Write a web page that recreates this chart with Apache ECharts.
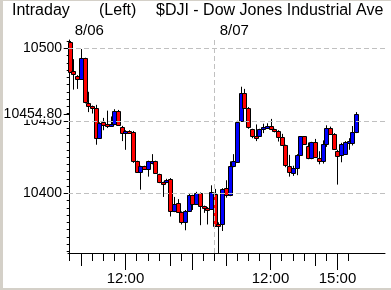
<!DOCTYPE html>
<html><head><meta charset="utf-8">
<script src="https://cdn.jsdelivr.net/npm/echarts@6/dist/echarts.min.js"></script>
<style>
html,body{margin:0;padding:0;background:#d4d0c8;}
#bg{position:absolute;left:3px;top:1px;width:388px;height:287px;background:#fff;}
#c{position:absolute;left:0;top:0;width:391px;height:290px;}
</style>
</head><body><div id="bg"></div><div id="c"></div>
<script>
// ---- data ----
const dayLabels = ['8/06', '8/07'];
const times1 = ['09:30','09:40','09:50','10:00','10:10','10:20','10:30','10:40','10:50','11:00',
  '11:10','11:20','11:30','11:40','11:50','12:00','12:10','12:20','12:30','12:40',
  '12:50','13:00','13:10','13:20','13:30','13:40','13:50','14:00','14:10','14:20',
  '14:30','14:40','14:50','15:00','15:10','15:20','15:30','15:40','15:50','16:00'];
const times2 = ['09:40','09:50','10:00','10:10','10:20','10:30','10:40','10:50','11:00','11:10',
  '11:20','11:30','11:40','11:50','12:00','12:10','12:20','12:30','12:40','12:50',
  '13:00','13:10','13:20','13:30','13:40','13:50','14:00','14:10','14:20','14:30',
  '14:40','14:50','15:00','15:10','15:20','15:30','15:40','15:50'];
const open = [
  10504, 10484, 10481, 10479, 10493, 10462.5, 10460, 10459, 10438, 10449.5,
  10448, 10446.5, 10447.5, 10457, 10446, 10441.5, 10443, 10442.5, 10422, 10414.5,
  10418.5, 10417, 10421, 10422, 10413, 10407.5, 10407.5, 10410, 10387.5, 10393,
  10387, 10380, 10388, 10398.5, 10392.5, 10400, 10391, 10390, 10389, 10399.5,
  10379, 10379, 10403.5, 10398.5, 10418.5, 10421.5, 10450, 10469, 10459, 10444,
  10439.5, 10439.5, 10444.3, 10444.8, 10446.4, 10444.3, 10443.2, 10439, 10433.3, 10419,
  10414, 10417.5, 10426.5, 10439.2, 10432.4, 10424, 10435.2, 10424, 10422, 10434,
  10444.7, 10441, 10429.5, 10426.5, 10427, 10434.5, 10434.5, 10442];
const close = [
  10483.5, 10482, 10479, 10493, 10463, 10460, 10458.5, 10438, 10448.5, 10447,
  10446.5, 10447.5, 10457, 10447, 10441.5, 10443, 10441.5, 10422.5, 10414.5, 10418.5,
  10417, 10422, 10422, 10414, 10407.5, 10407, 10409.5, 10387.5, 10392.5, 10387,
  10380, 10388, 10398.5, 10392.5, 10400, 10391, 10390, 10389, 10401, 10377.5,
  10378, 10403, 10398.5, 10418.5, 10422, 10449.5, 10469, 10459, 10445.5, 10439.5,
  10439, 10444, 10446, 10446.4, 10444.3, 10443.2, 10439, 10433.3, 10419.5, 10414.5,
  10417.5, 10426.5, 10439.2, 10434, 10424.3, 10435.2, 10425, 10422, 10433.7, 10444.7,
  10441, 10430.7, 10426, 10434.3, 10435.5, 10435.9, 10442, 10454.8];
const low = [
  10483, 10471.5, 10472, 10478.5, 10462, 10456, 10455, 10433.5, 10437.5, 10443.5,
  10445, 10446, 10447, 10446.5, 10436, 10430, 10441, 10421, 10414, 10402.5,
  10416.5, 10411.5, 10420, 10413.5, 10407, 10397.5, 10407, 10384, 10387, 10386.5,
  10378.5, 10374.5, 10387.5, 10388.5, 10392, 10378, 10386.5, 10378.5, 10388.5, 10377,
  10358, 10374, 10397, 10398, 10418, 10421, 10449.5, 10458.5, 10444.5, 10438,
  10436, 10439, 10441.5, 10444.5, 10444, 10442, 10435.7, 10433, 10418, 10411.5,
  10412, 10412.5, 10426, 10433.5, 10423.5, 10423.5, 10424.5, 10420, 10420.5, 10432,
  10440.5, 10430, 10406, 10421.4, 10426.5, 10430, 10433, 10441.5];
const high = [
  10505, 10492.5, 10481.5, 10499.5, 10493.5, 10470, 10460.5, 10461, 10449, 10452,
  10457, 10453, 10458, 10457.5, 10446.5, 10443.5, 10443.5, 10443, 10422.5, 10419,
  10419, 10422.5, 10427, 10422.5, 10413.5, 10408, 10410, 10410.5, 10397.5, 10396,
  10387.5, 10388.5, 10400, 10399, 10401, 10400.5, 10391.5, 10390.5, 10405.5, 10403,
  10380, 10403.5, 10409, 10422, 10427, 10450, 10473.5, 10472, 10459.5, 10444.5,
  10447.5, 10444.5, 10448, 10448.3, 10451.3, 10444.5, 10443.5, 10441, 10433.5, 10426.5,
  10419, 10427, 10439.5, 10439.5, 10435, 10435.5, 10437.5, 10429, 10436.5, 10446.9,
  10446, 10441.5, 10430, 10434.8, 10436, 10438, 10446.4, 10456];
const lastPrice = 10454.80;
const yTickLabels = [10400, 10450, 10500];
const yMinorStep = 5;
const halfHourTicks = ['09:30','10:00','10:30','11:00','11:30','12:00','12:30','13:00','13:30','14:00','14:30','15:00','15:30'];
const mediumTicks = ['10:00','14:00'];
const longTicks = ['12:00','15:00'];
const xTickLabels = [[0,'12:00'],[1,'12:00'],[1,'15:00']];

// ---- helpers ----
const SESSION = 390;               // trading minutes per day
function toT(day, hm) {
  const [h, m] = hm.split(':').map(Number);
  return day * SESSION + (h * 60 + m - 570);
}
const candles = [];
times1.forEach((t, i) => candles.push([toT(0, t), open[i], close[i], low[i], high[i]]));
times2.forEach((t, j) => { const i = times1.length + j; candles.push([toT(1, t), open[i], close[i], low[i], high[i]]); });

const X_MIN = -4.6, X_MAX = 847.8;
const Y_MIN = 10358.83, Y_MAX = 10505.72;

const halfT = [], medT = [], longT = [];
[0, 1].forEach(d => {
  halfHourTicks.forEach(t => halfT.push(toT(d, t)));
  mediumTicks.forEach(t => medT.push(toT(d, t)));
  longTicks.forEach(t => longT.push(toT(d, t)));
});
const labelT = xTickLabels.map(([d, t]) => toT(d, t));
const labelMap = {};
xTickLabels.forEach(([d, t]) => { labelMap[toT(d, t)] = t; });
const dayT = dayLabels.map((_, d) => d * SESSION);
const minorY = [];
for (let v = Math.ceil(Y_MIN / yMinorStep) * yMinorStep; v <= Y_MAX; v += yMinorStep) minorY.push(v);

const FONT = '"Liberation Sans", Arial, sans-serif';
const black = { color: '#000', width: 1 };

const baseX = { type: 'value', min: X_MIN, max: X_MAX, position: 'bottom', gridIndex: 0,
  splitLine: { show: false }, axisLine: { show: false }, axisLabel: { show: false } };
const baseY = { type: 'value', min: Y_MIN, max: Y_MAX, position: 'left', gridIndex: 0,
  splitLine: { show: false }, axisLine: { show: false }, axisLabel: { show: false } };

const chart = echarts.init(document.getElementById('c'), null, { renderer: 'canvas' });
chart.setOption({
  animation: false,
  backgroundColor: 'transparent',
  grid: { left: 68, right: 6, top: 40, bottom: 37, containLabel: false },
  xAxis: [
    Object.assign({}, baseX, { axisLine: { show: true, lineStyle: black },
      axisTick: { show: true, customValues: halfT, length: 8, lineStyle: black } }),
    Object.assign({}, baseX, { axisTick: { show: true, customValues: medT, length: 13, lineStyle: black } }),
    Object.assign({}, baseX, { axisTick: { show: true, customValues: longT, length: 17, lineStyle: black },
      axisLabel: { show: true, customValues: labelT, formatter: v => labelMap[v] || '',
        margin: 18, fontSize: 15, fontFamily: FONT, color: '#000' } }),
    Object.assign({}, baseX, { position: 'top', axisTick: { show: false },
      axisLabel: { show: true, customValues: dayT, formatter: v => dayLabels[Math.round(v / SESSION)],
        align: 'left', padding: [0, 0, 0, 5], margin: 2, fontSize: 15, fontFamily: FONT, color: '#000' } })
  ],
  yAxis: [
    Object.assign({}, baseY, { axisLine: { show: true, lineStyle: black },
      axisTick: { show: true, customValues: minorY, length: 3, lineStyle: black } }),
    Object.assign({}, baseY, { axisTick: { show: true, customValues: yTickLabels, length: 6, lineStyle: black },
      axisLabel: { show: true, customValues: yTickLabels, formatter: v => String(v), margin: 6,
        fontSize: 14, fontFamily: FONT, color: '#000' } }),
    Object.assign({}, baseY, { z: 5, axisTick: { show: true, customValues: [lastPrice], length: 6, lineStyle: black },
      axisLabel: { show: true, customValues: [lastPrice], formatter: v => v.toFixed(2), margin: 6,
        fontSize: 14, fontFamily: FONT, color: '#000', backgroundColor: '#fff', lineHeight: 12 } })
  ],
  graphic: [
    { type: 'text', x: 12, y: 11, style: { text: 'Intraday', font: '16px ' + FONT, fill: '#000', verticalAlign: 'middle' } },
    { type: 'text', x: 99, y: 11, style: { text: '(Left)', font: '16px ' + FONT, fill: '#000', verticalAlign: 'middle' } },
    { type: 'text', x: 156, y: 11, style: { text: '$DJI - Dow Jones Industrial Ave', font: '16px ' + FONT, fill: '#000', verticalAlign: 'middle' } }
  ],
  series: [
    { type: 'line', xAxisIndex: 0, yAxisIndex: 0, data: [], z: 1, silent: true,
      markLine: { silent: true, symbol: ['none', 'none'], label: { show: false }, animation: false,
        lineStyle: { color: '#c0c0c0', type: [5, 3], width: 1 },
        data: yTickLabels.map(v => ({ yAxis: v })).concat([{ xAxis: SESSION }]) } },
    { type: 'custom', xAxisIndex: 0, yAxisIndex: 0, z: 3, clip: true, silent: true,
      data: candles,
      encode: { x: 0, y: [1, 2, 3, 4] },
      renderItem: function (params, api) {
        const t = api.value(0), o = api.value(1), c = api.value(2), l = api.value(3), h = api.value(4);
        const pO = api.coord([t, o]), pC = api.coord([t, c]);
        const pL = api.coord([t, l]), pH = api.coord([t, h]);
        const cx = Math.round(pO[0]);
        let top = Math.round(Math.min(pO[1], pC[1])) + 0.5;
        let bot = Math.round(Math.max(pO[1], pC[1])) + 0.5;
        if (bot - top < 2) bot = top + 2;
        return { type: 'group', children: [
          { type: 'line', shape: { x1: cx + 0.5, y1: pH[1], x2: cx + 0.5, y2: pL[1] },
            style: { stroke: '#000', lineWidth: 1 } },
          { type: 'rect', shape: { x: cx - 1.5, y: top, width: 4, height: bot - top },
            style: { fill: c >= o ? '#0000ff' : '#ff0000', stroke: '#000', lineWidth: 1 } }
        ] };
      } }
  ]
});
</script>
</body></html>
